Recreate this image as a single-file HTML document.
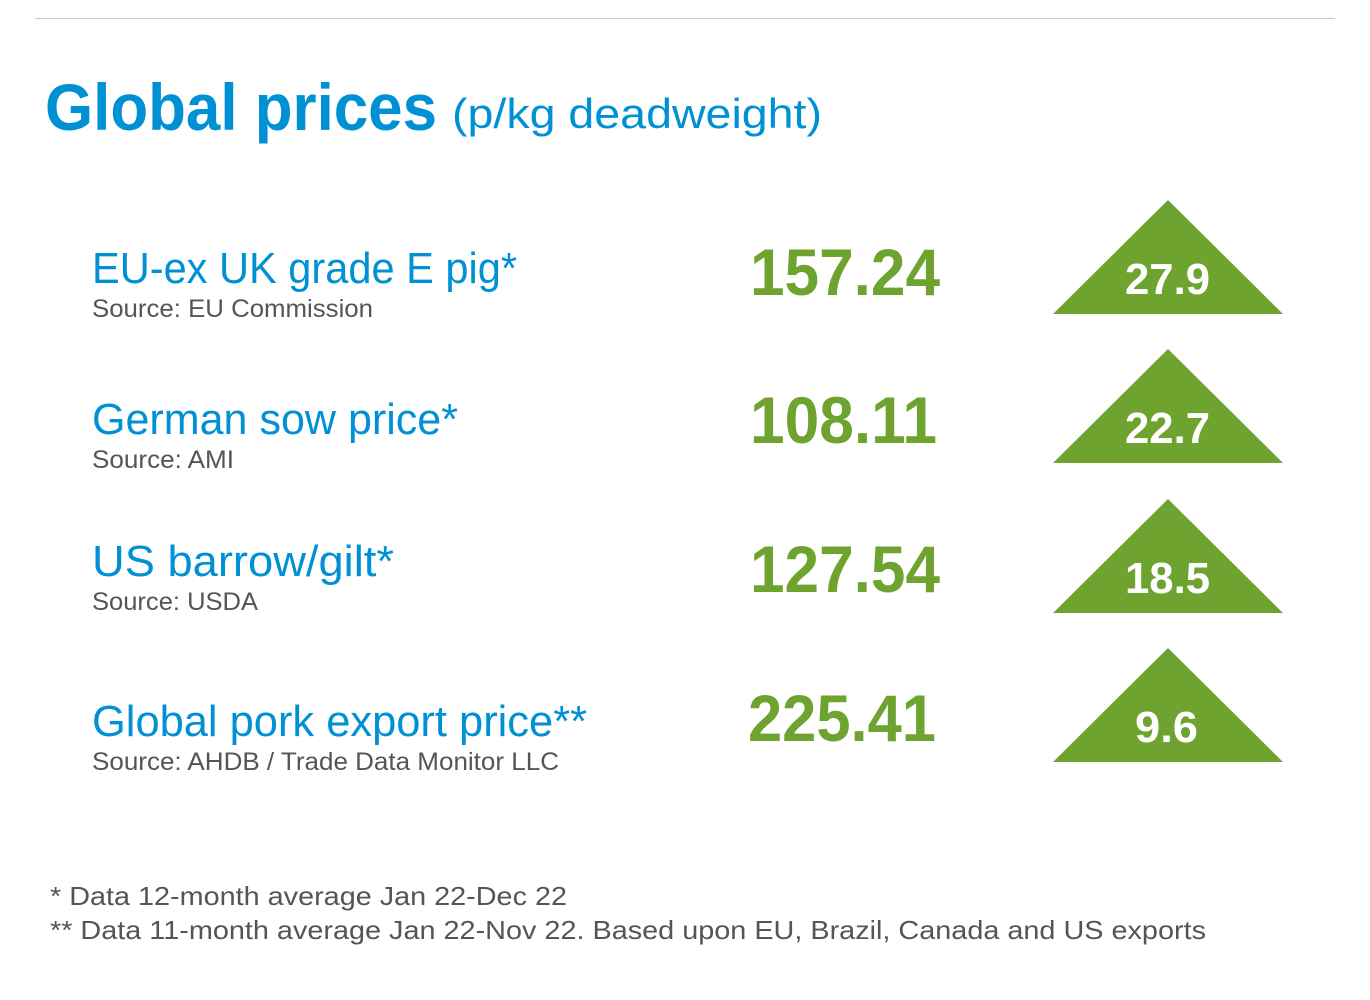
<!DOCTYPE html>
<html><head><meta charset="utf-8"><style>
html,body{margin:0;padding:0;background:#fff;}
svg{display:block}
</style></head><body>
<svg width="1370" height="1000" xmlns="http://www.w3.org/2000/svg" font-family="Liberation Sans, sans-serif">
<line x1="35" y1="18.5" x2="1335" y2="18.5" stroke="#c8c8c8" stroke-width="1"/>
<text x="45" y="130" font-size="66" font-weight="bold" fill="#0091d5" textLength="392" lengthAdjust="spacingAndGlyphs">Global prices</text>
<text x="452" y="128" font-size="42" fill="#0091d5" textLength="370" lengthAdjust="spacingAndGlyphs">(p/kg deadweight)</text>

<g fill="#0091d5" font-size="44">
<text x="92" y="283" textLength="425" lengthAdjust="spacingAndGlyphs">EU-ex UK grade E pig*</text>
<text x="92" y="434" textLength="366" lengthAdjust="spacingAndGlyphs">German sow price*</text>
<text x="92" y="576" textLength="302" lengthAdjust="spacingAndGlyphs">US barrow/gilt*</text>
<text x="92" y="736" textLength="495" lengthAdjust="spacingAndGlyphs">Global pork export price**</text>
</g>
<g fill="#555" font-size="25">
<text x="92" y="317" textLength="281" lengthAdjust="spacingAndGlyphs">Source: EU Commission</text>
<text x="92" y="468" textLength="142" lengthAdjust="spacingAndGlyphs">Source: AMI</text>
<text x="92" y="610" textLength="166" lengthAdjust="spacingAndGlyphs">Source: USDA</text>
<text x="92" y="770" textLength="467" lengthAdjust="spacingAndGlyphs">Source: AHDB / Trade Data Monitor LLC</text>
</g>
<g fill="#6ea330" font-size="66" font-weight="bold">
<text x="750" y="295" textLength="190" lengthAdjust="spacingAndGlyphs">157.24</text>
<text x="750" y="443" textLength="187" lengthAdjust="spacingAndGlyphs">108.11</text>
<text x="750" y="592" textLength="190" lengthAdjust="spacingAndGlyphs">127.54</text>
<text x="748" y="741" textLength="188" lengthAdjust="spacingAndGlyphs">225.41</text>
</g>
<g fill="#6ea330">
<polygon points="1168,200 1283,314 1053,314"/>
<polygon points="1168,349 1283,463 1053,463"/>
<polygon points="1168,499 1283,613 1053,613"/>
<polygon points="1168,648 1283,762 1053,762"/>
</g>
<g fill="#fff" font-size="44" font-weight="bold">
<text x="1125" y="294" textLength="85" lengthAdjust="spacingAndGlyphs">27.9</text>
<text x="1125" y="443" textLength="85" lengthAdjust="spacingAndGlyphs">22.7</text>
<text x="1125" y="593" textLength="85" lengthAdjust="spacingAndGlyphs">18.5</text>
<text x="1135" y="742" textLength="63" lengthAdjust="spacingAndGlyphs">9.6</text>
</g>
<g fill="#555" font-size="26">
<text x="50" y="905" textLength="517" lengthAdjust="spacingAndGlyphs">* Data 12-month average Jan 22-Dec 22</text>
<text x="50" y="939" textLength="1156" lengthAdjust="spacingAndGlyphs">** Data 11-month average Jan 22-Nov 22. Based upon EU, Brazil, Canada and US exports</text>
</g>
</svg>
</body></html>
